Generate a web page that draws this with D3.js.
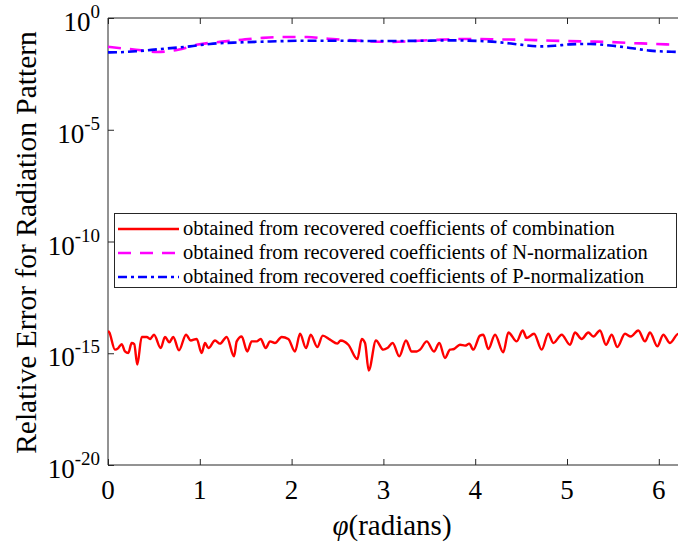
<!DOCTYPE html>
<html><head><meta charset="utf-8">
<script src="https://cdn.jsdelivr.net/npm/d3@7"></script>
</head>
<body style="margin:0">
<svg id="s" width="678" height="542" style="background:#fff"></svg>
<script>
// ---- data (phi in radians, value as log10 of relative error) ----
const redPhi = [0,0.014,0.076,0.112,0.149,0.185,0.221,0.258,0.286,0.319,0.367,0.422,0.458,0.501,0.574,0.621,0.668,0.711,0.773,0.850,0.901,0.966,1.020,1.057,1.093,1.166,1.220,1.293,1.373,1.402,1.456,1.517,1.565,1.620,1.663,1.718,1.765,1.819,1.892,1.964,2.037,2.092,2.157,2.208,2.280,2.339,2.418,2.498,2.535,2.618,2.716,2.764,2.800,2.840,2.919,2.999,3.043,3.101,3.173,3.246,3.308,3.363,3.399,3.472,3.551,3.609,3.671,3.725,3.769,3.834,3.889,3.936,3.979,4.052,4.088,4.143,4.216,4.306,4.361,4.452,4.517,4.561,4.641,4.724,4.796,4.851,4.942,5.033,5.087,5.160,5.232,5.287,5.359,5.425,5.487,5.548,5.632,5.694,5.777,5.850,5.904,5.984,6.049,6.122,6.212,6.283];
const redLog = [-14.00,-14.07,-14.84,-14.77,-14.59,-14.92,-14.99,-14.54,-14.59,-15.51,-14.27,-14.27,-14.36,-14.17,-14.77,-14.27,-14.51,-14.27,-14.87,-14.17,-14.43,-14.36,-14.99,-14.54,-14.77,-14.43,-14.57,-14.27,-15.14,-14.47,-14.25,-14.92,-14.47,-14.47,-14.36,-14.77,-14.47,-14.54,-14.27,-14.36,-14.92,-14.13,-14.77,-14.17,-14.72,-14.21,-14.39,-14.57,-14.43,-14.62,-15.26,-14.36,-14.54,-15.77,-14.43,-14.84,-14.77,-14.54,-15.14,-14.43,-14.92,-14.92,-14.84,-14.47,-14.92,-14.54,-15.21,-14.84,-14.81,-14.62,-14.66,-14.57,-14.84,-14.21,-14.17,-14.81,-14.17,-14.96,-14.07,-14.47,-13.98,-14.32,-14.13,-14.84,-14.13,-14.54,-14.17,-14.62,-14.07,-14.36,-14.07,-14.25,-13.98,-14.62,-14.17,-14.72,-14.13,-14.25,-13.98,-14.47,-14.07,-14.69,-14.17,-14.54,-14.13,-14.40];

const magPhi = [0,0.022,0.305,0.534,0.763,0.980,1.220,1.460,1.688,1.928,2.168,2.397,2.614,2.876,3.105,3.322,3.562,3.802,4.031,4.270,4.510,4.739,4.978,5.218,5.447,5.686,5.904,6.155,6.283];
const magLog = [-1.29,-1.30,-1.42,-1.52,-1.42,-1.19,-1.07,-0.97,-0.89,-0.85,-0.85,-0.93,-0.98,-1.05,-1.07,-1.03,-0.98,-0.94,-0.94,-0.96,-0.97,-1.00,-1.03,-1.05,-1.07,-1.12,-1.15,-1.19,-1.21];

const bluePhi = [0,0.022,0.305,0.566,0.893,1.111,1.438,1.765,2.092,2.527,2.963,3.399,3.725,4.052,4.270,4.488,4.706,4.869,5.033,5.251,5.469,5.686,5.904,6.209,6.283];
const blueLog = [-1.54,-1.54,-1.49,-1.39,-1.27,-1.16,-1.09,-1.05,-1.02,-1.02,-1.03,-1.02,-1.00,-1.03,-1.09,-1.19,-1.27,-1.24,-1.18,-1.16,-1.23,-1.34,-1.46,-1.52,-1.53];

const xTicks = [0,1,2,3,4,5,6];
const yTickExps = [0,-5,-10,-15,-20];
const legendLabels = [
  "obtained from recovered coefficients of combination",
  "obtained from recovered coefficients of N-normalization",
  "obtained from recovered coefficients of P-normalization"
];
const seriesColors = ["#ff0000","#ff00ff","#0000ff"];

// ---- layout ----
const FONT = "'Liberation Serif'";
const svg = d3.select("#s");
const L = 108, T = 18, B = 465;
const x = d3.scaleLinear().domain([0, 2*Math.PI]).range([L, L + 2*Math.PI*91.8]);
const y = d3.scaleLog().domain([1e-20, 1]).range([B, T]);
const axisColor = "#262626";

function txt(parent, px, xx, yy) {
  return parent.append("text").attr("x", xx).attr("y", yy)
    .attr("font-size", px).style("font-family", FONT).attr("fill", "#000");
}

// x tick labels
xTicks.forEach(v => {
  txt(svg, 27, x(v), 499).attr("text-anchor","middle").text(String(v));
});
// y tick labels with superscripts
yTickExps.forEach(e => {
  const t = txt(svg, 27, 100, y(Math.pow(10,e)) + 13).attr("text-anchor","end");
  t.append("tspan").text("10");
  t.append("tspan").attr("dy",-13).attr("font-size",19).text(String(e));
});
// axis titles
txt(svg, 29.5, 0, 0).attr("transform", `translate(36,${(T+B)/2 + 1}) rotate(-90)`)
  .attr("text-anchor","middle").text("Relative Error for Radiation Pattern");
const xl = txt(svg, 29, 392, 535).attr("text-anchor","middle");
xl.append("tspan").attr("font-style","italic").text("\u03C6");
xl.append("tspan").text("(radians)");

// ---- axes (lines and ticks only) ----
const gx = svg.append("g").attr("transform", `translate(0,${B})`)
  .call(d3.axisBottom(x).tickValues(xTicks).tickSize(-6).tickFormat(""));
const gxt = svg.append("g").attr("transform", `translate(0,${T})`)
  .call(d3.axisTop(x).tickValues(xTicks).tickSize(-6).tickFormat(""));
const gy = svg.append("g").attr("transform", `translate(${L},0)`)
  .call(d3.axisLeft(y).tickValues(yTickExps.map(e => Math.pow(10, e))).tickSize(-6).tickFormat(""));
[gx, gxt].forEach(a => a.select(".domain").attr("d", `M${L},0H690`));
gy.select(".domain").attr("d", `M0,${T}V${B}`);
[gx, gxt, gy].forEach(a => { a.selectAll(".domain,.tick line").attr("stroke", axisColor); a.selectAll(".tick text").remove(); });

// ---- series ----
svg.append("clipPath").attr("id","pc").append("rect")
  .attr("x", L).attr("y", T).attr("width", 700).attr("height", B - T);
const line = d3.line().x(d => x(d[0])).y(d => y(Math.pow(10, d[1]))).curve(d3.curveMonotoneX);
const mk = (p, v) => p.map((ph, i) => [ph, v[i]]);
const g = svg.append("g").attr("clip-path","url(#pc)");
g.append("path").datum(mk(redPhi, redLog)).attr("d", line)
  .attr("fill","none").attr("stroke", seriesColors[0]).attr("stroke-width",2.4).attr("stroke-linejoin","round");
g.append("path").datum(mk(magPhi, magLog)).attr("d", line)
  .attr("fill","none").attr("stroke", seriesColors[1]).attr("stroke-width",2.6).attr("stroke-dasharray","13,9");
g.append("path").datum(mk(bluePhi, blueLog)).attr("d", line)
  .attr("fill","none").attr("stroke", seriesColors[2]).attr("stroke-width",2.6).attr("stroke-dasharray","9,4,3,4");

// ---- legend ----
const lg = svg.append("g");
lg.append("rect").attr("x",114.5).attr("y",213.5).attr("width",562).attr("height",74)
  .attr("fill","#fff").attr("stroke",axisColor).attr("stroke-width",1);
const dashes = [null, "13,9", "9,4,3,4"];
legendLabels.forEach((lab, i) => {
  const cy = 229 + i*24;
  lg.append("line").attr("x1",118).attr("x2",179).attr("y1",cy).attr("y2",cy)
    .attr("stroke", seriesColors[i]).attr("stroke-width",2.6)
    .attr("stroke-dasharray", dashes[i]);
  txt(lg, 20.5, 183, cy + 6).text(lab);
});
</script>
</body></html>
